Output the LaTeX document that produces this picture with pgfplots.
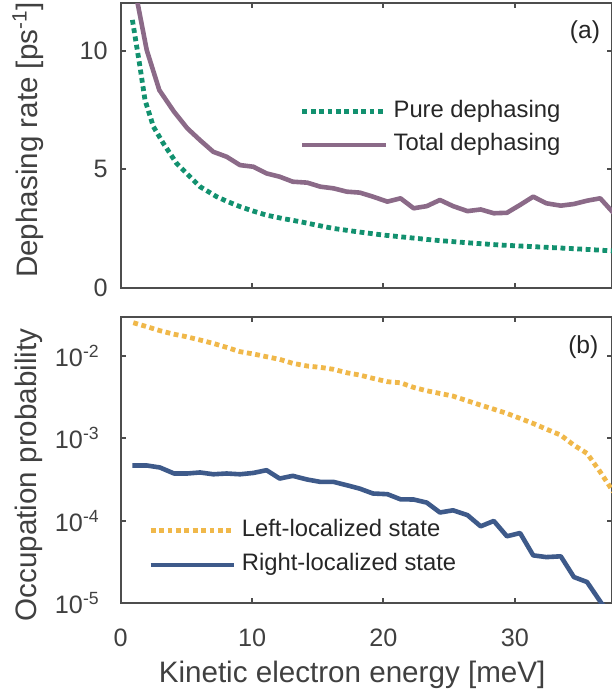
\documentclass[border=0pt]{standalone}
\usepackage{fontspec}
\setmainfont{Liberation Sans}
\usepackage{pgfplots}
\pgfplotsset{compat=1.18}
\definecolor{axgray}{HTML}{4D4D4D}
\definecolor{txtgray}{HTML}{404040}
\definecolor{legtxt}{HTML}{262626}
\definecolor{cgreen}{HTML}{12916F}
\definecolor{cmauve}{HTML}{8B6A88}
\definecolor{cgold}{HTML}{F0B84A}
\definecolor{cnavy}{HTML}{3E5A8A}
\pgfplotsset{
  base/.style={
    scale only axis, width=245.65pt, xmin=0, xmax=37.4,
    axis line style={axgray, line width=1pt},
    tick style={axgray, line width=1pt},
    tick align=inside, major tick length=2.5pt,
    xtick={0,10,20,30},
    tick label style={font=\fontsize{12.6}{14}\selectfont, text=txtgray},
    label style={font=\fontsize{14.8}{17}\selectfont, text=txtgray},
    legend cell align=left,
    legend image code/.code={\draw[##1] (0pt,0pt) -- (41.7pt,0pt);},
    legend style={draw=none, fill=none, inner sep=0pt, outer sep=0pt,
      font=\fontsize{11.9}{13}\selectfont,
      nodes={inner sep=0pt, text height=8.5pt, text depth=2.5pt, text=legtxt},
      /tikz/every odd column/.append style={column sep=2.7pt}},
  },
  dotted style/.style={line width=2.4pt, dash pattern=on 2.4pt off 1.8pt},
  solid style/.style={line width=2.3pt, line join=round},
}
\begin{document}
\begin{tikzpicture}
\useasboundingbox (-60.35pt,-45.35pt) rectangle (245.15pt,301.65pt);
% top panel
\begin{axis}[base, at={(0pt,157.65pt)}, anchor=south west, height=142.35pt,
  ymin=0, ymax=12, ytick={0,5,10}, yticklabels={0,5,10}, xticklabels={},
  yticklabel style={inner sep=0pt, xshift=-6.3pt},
  ylabel={Dephasing rate [ps\textsuperscript{-1}]},
  ylabel style={at={(axis description cs:-0.189,0.52)}, anchor=center},
  legend style={at={(rel axis cs:0.365,0.561)}, anchor=west, row sep=5.65pt}]
\addplot[cgreen, dotted style] coordinates {
(0.89,11.3) (1.47,9.32) (1.85,7.92) (2.49,6.8) (3.25,6.09) (4.26,5.25) (5.02,4.83)
(6.04,4.27) (7.3,3.85) (8.1,3.65) (9.08,3.43) (10.1,3.24) (11.1,3.07) (12.4,2.92)
(13.7,2.79) (15,2.64) (16.2,2.51) (18,2.37) (20,2.23) (22,2.12) (23.8,2.02)
(26.3,1.91) (28.9,1.81) (31.5,1.74) (34,1.67) (35.7,1.62) (37.5,1.56)};
\addlegendentry{Pure dephasing}
\addplot[cmauve, solid style] coordinates {
(0.89,13.14) (1.98,10.03) (2.94,8.34) (4.06,7.43) (5.07,6.73) (6.04,6.23) (7.05,5.74)
(8.07,5.53) (9.08,5.18) (10.1,5.11) (11.1,4.83) (12.1,4.69) (13.1,4.48) (14.2,4.44)
(15.2,4.27) (16.2,4.20) (17.2,4.06) (18.2,4.02) (19.2,3.85) (20.3,3.64) (21.3,3.78)
(22.3,3.36) (23.3,3.45) (24.3,3.71) (25.3,3.45) (26.4,3.24) (27.4,3.31) (28.4,3.15)
(29.4,3.17) (30.4,3.50) (31.4,3.85) (32.4,3.57) (33.5,3.47) (34.5,3.54) (35.5,3.68)
(36.5,3.78) (37.5,3.17)};
\addlegendentry{Total dephasing}
\node[font=\fontsize{12.3}{14}\selectfont, text=legtxt] at (rel axis cs:0.945,0.900) {(a)};
\end{axis}
% bottom panel
\begin{axis}[base, at={(0pt,0pt)}, anchor=south west, height=143pt,
  ymode=log, ymin=1e-5, ymax=2.92e-2,
  ytick={1e-5,1e-4,1e-3,1e-2},
  yticklabels={10\textsuperscript{-5},10\textsuperscript{-4},10\textsuperscript{-3},10\textsuperscript{-2}},
  yminorticks=false,
  xticklabels={0,10,20,30},
  xticklabel style={inner sep=0pt, yshift=-12.8pt},
  yticklabel style={inner sep=0pt, xshift=-10.3pt},
  xlabel={Kinetic electron energy [meV]},
  xlabel style={at={(axis description cs:0.471,0)}, anchor=center, yshift=-35.85pt},
  ylabel={Occupation probability},
  ylabel style={at={(axis description cs:-0.187,0.449)}, anchor=center},
  legend style={at={(rel axis cs:0.0562,0.194)}, anchor=west, row sep=6.15pt}]
\addplot[cgold, dotted style] coordinates {
(0.96,2.51e-2) (1.98,2.25e-2) (2.99,2.01e-2) (4.0,1.83e-2) (5.0,1.70e-2) (6.04,1.55e-2)
(7.05,1.41e-2) (8.07,1.26e-2) (9.08,1.12e-2) (10.1,1.05e-2) (11.1,9.72e-3) (12.1,9.04e-3)
(13.1,8.09e-3) (14.2,7.50e-3) (15.2,7.23e-3) (16.2,6.84e-3) (17.2,6.22e-3) (18.2,5.83e-3)
(19.2,5.32e-3) (20.3,4.84e-3) (21.3,4.70e-3) (22.3,4.13e-3) (23.3,3.76e-3) (24.3,3.49e-3)
(25.3,3.24e-3) (26.4,2.84e-3) (27.4,2.52e-3) (28.4,2.25e-3) (29.4,2.00e-3) (30.4,1.74e-3)
(31.4,1.51e-3) (32.4,1.29e-3) (33.5,1.09e-3) (34.5,8.24e-4) (35.5,6.55e-4) (36.5,3.91e-4)
(37.5,2.24e-4)};
\addlegendentry{Left-localized state}
\addplot[cnavy, solid style] coordinates {
(0.89,4.68e-4) (1.98,4.68e-4) (2.99,4.42e-4) (4.06,3.74e-4) (5.07,3.74e-4) (6.04,3.85e-4)
(7.05,3.66e-4) (8.07,3.74e-4) (9.08,3.66e-4) (10.1,3.80e-4) (11.1,4.10e-4) (12.1,3.25e-4)
(13.1,3.50e-4) (14.2,3.16e-4) (15.2,2.96e-4) (16.2,2.96e-4) (17.2,2.70e-4) (18.2,2.45e-4)
(19.2,2.14e-4) (20.3,2.10e-4) (21.3,1.82e-4) (22.3,1.81e-4) (23.3,1.66e-4) (24.3,1.26e-4)
(25.3,1.34e-4) (26.4,1.17e-4) (27.4,8.57e-5) (28.4,9.95e-5) (29.4,6.49e-5) (30.4,7.11e-5)
(31.4,3.81e-5) (32.4,3.63e-5) (33.5,3.71e-5) (34.5,2.08e-5) (35.5,1.81e-5) (36.6,1.0e-5)
(37.5,7.0e-6)};
\addlegendentry{Right-localized state}
\node[font=\fontsize{12.3}{14}\selectfont, text=legtxt] at (rel axis cs:0.9416,0.897) {(b)};
\end{axis}
\end{tikzpicture}
\end{document}
